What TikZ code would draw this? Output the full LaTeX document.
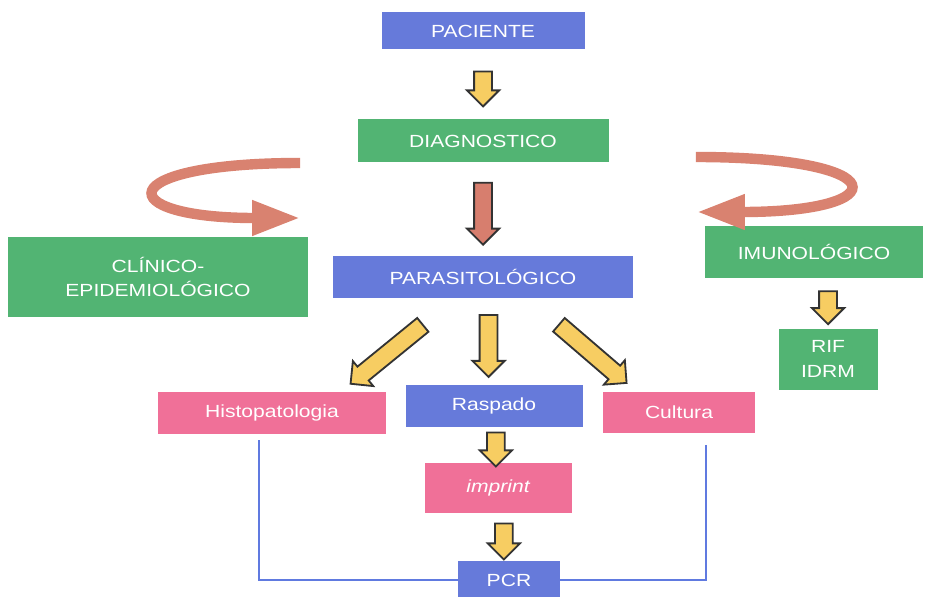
\documentclass[tikz,border=0pt]{standalone}
\usepackage{fontspec}
\setmainfont[FakeStretch=1.2]{Liberation Sans}
\usetikzlibrary{positioning,shapes.arrows,arrows.meta}

\definecolor{boxblue}{RGB}{102,122,218}
\definecolor{boxgreen}{RGB}{82,180,115}
\definecolor{boxpink}{RGB}{240,112,152}
\definecolor{arrowyellow}{RGB}{247,205,98}
\definecolor{arrowred}{RGB}{215,126,110}
\definecolor{curlred}{RGB}{217,130,112}
\definecolor{lineblue}{RGB}{96,122,224}

\begin{document}
\begin{tikzpicture}[%
    on grid,
    box/.style={text=white, inner sep=0pt, align=center,
                font=\fontsize{12.5}{17.5}\selectfont},
    bluebox/.style={box, fill=boxblue},
    greenbox/.style={box, fill=boxgreen},
    pinkbox/.style={box, fill=boxpink},
    fat/.style={single arrow, draw=black!80, line width=1.3pt,
                inner xsep=0pt, inner ysep=0.2cm,
                single arrow head extend=0.18cm},
    yel/.style={fat, fill=arrowyellow},
    red/.style={fat, fill=arrowred},
    curl/.style={curlred, line width=0.26cm,
                 -{Triangle[length=1.2cm, width=0.82cm]}},
    pcrline/.style={lineblue, line width=1.1pt}
    ]

    \useasboundingbox (0,0) rectangle (23.65,-14.9);

    \node[bluebox, minimum width=5.075cm, minimum height=0.925cm] (pac) at (12.075,-0.775) {PACIENTE};
    \node[greenbox, minimum width=6.275cm, minimum height=1.075cm] (diag) [below=2.75cm of pac] {DIAGNOSTICO};
    \node[bluebox, minimum width=7.5cm, minimum height=1.05cm] (paras) [below=3.4cm of diag] {PARASITOLÓGICO};
    \node[greenbox, minimum width=7.5cm, minimum height=2cm] (clin) [left=8.125cm of paras] {CLÍNICO-\\EPIDEMIOLÓGICO};
    \node[greenbox, minimum width=5.45cm, minimum height=1.3cm] (imun) [above right=0.625cm and 8.275cm of paras] {IMUNOLÓGICO};
    \node[greenbox, minimum width=2.475cm, minimum height=1.525cm] (rif) [below right=2.675cm and 0.35cm of imun] {RIF\\IDRM};
    \node[pinkbox, minimum width=5.7cm, minimum height=1.05cm] (histo) [below left=3.4cm and 5.275cm of paras] {Histopatologia};
    \node[bluebox, minimum width=4.425cm, minimum height=1.05cm] (rasp) [below right=3.225cm and 0.275cm of paras] {Raspado};
    \node[pinkbox, minimum width=3.8cm, minimum height=1.025cm] (cult) [below right=3.375cm and 4.9cm of paras] {Cultura};
    \node[pinkbox, minimum width=3.675cm, minimum height=1.25cm] (imp) [below right=2.05cm and 0.1cm of rasp] {\itshape imprint};
    \node[bluebox, minimum width=2.55cm, minimum height=0.95cm] (pcr) [below right=2.3cm and 0.275cm of imp] {PCR};

    % curved arrows beside DIAGNOSTICO
    \coordinate (ltop) at ([xshift=-1.425cm,yshift=-0.55cm]diag.west);
    \coordinate (lbot) at ([xshift=-1.425cm,yshift=-1.925cm]diag.west);
    \coordinate (rtop) at ([xshift=2.175cm,yshift=-0.4cm]diag.east);
    \coordinate (rbot) at ([xshift=2.2cm,yshift=-1.775cm]diag.east);
    \draw[curl] (ltop) .. controls +(-4.75,0) and +(-4.75,0) .. (lbot);
    \draw[curl] (rtop) .. controls +(5.0,0) and +(5.0,0) .. (rbot);

    \path (pac) -- node[yel, rotate=-90, minimum height=0.875cm] {} (diag);
    \path (diag) -- node[red, rotate=-90, minimum height=1.55cm] {} (paras);
    \path (paras) -- node[yel, rotate=-90, minimum height=1.55cm] {} (rasp);
    \path ([xshift=-1.425cm,yshift=-0.6cm]paras.south) -- node[yel, sloped, allow upside down, minimum height=2.33cm] {} ([xshift=-0.8cm,yshift=0.275cm]histo.north east);
    \path ([xshift=1.825cm,yshift=-0.6cm]paras.south) -- node[yel, sloped, minimum height=2.23cm] {} ([xshift=0.5cm,yshift=0.29cm]cult.north west);
    \path (rasp) -- node[yel, rotate=-90, minimum height=0.85cm] {} (imp);
    \path (imp) -- node[yel, rotate=-90, minimum height=0.9cm] {} (pcr);
    \path (imun.south -| rif.north) -- node[yel, rotate=-90, minimum height=0.825cm] {} (rif.north);

    \draw[pcrline] ([xshift=-0.325cm,yshift=-0.15cm]histo.south) |- (pcr.west);
    \draw[pcrline] ([xshift=0.675cm,yshift=-0.3cm]cult.south) |- (pcr.east);

\end{tikzpicture}
\end{document}
